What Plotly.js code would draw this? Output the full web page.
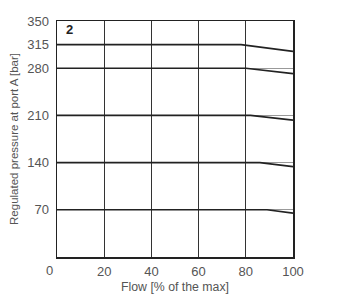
<!DOCTYPE html>
<html><head><meta charset="utf-8">
<script src="https://cdn.plot.ly/plotly-3.0.1.min.js"></script>
<style>body{margin:0;background:#fff}#c{width:344px;height:304px}</style>
</head><body><div id="c"></div>
<script>
// Flow [% of max] break points and pressures [bar] per setting curve
const flow315 = [0, 78, 100];  const p315 = [315, 315, 305];
const flow280 = [0, 80, 100];  const p280 = [280, 280, 272];
const flow210 = [0, 82, 100];  const p210 = [210, 210, 203];
const flow140 = [0, 86, 100];  const p140 = [140, 140, 134];
const flow70  = [0, 89, 100];  const p70  = [70, 70, 65];
const xTicks = [20, 40, 60, 80, 100];
const yTicks = [70, 140, 210, 280, 315, 350];
const yGrid  = [70, 140, 210, 280];

const lineStyle = {color: '#222', width: 1.6};
const series = [[flow315,p315],[flow280,p280],[flow210,p210],[flow140,p140],[flow70,p70]];
const traces = series.map(s => ({x: s[0], y: s[1], mode: 'lines', line: lineStyle, hoverinfo: 'skip', showlegend: false}));
// invisible trace to activate the grid overlay axis
traces.unshift({x: [0, 100], y: [0, 0], yaxis: 'y2', mode: 'lines', line: {width: 0}, showlegend: false, hoverinfo: 'skip'});

const font = {family: 'Liberation Sans, Arial, sans-serif', color: '#555'};
Plotly.newPlot('c', traces, {
  width: 344, height: 304,
  margin: {l: 57, r: 51, t: 21, b: 47},
  paper_bgcolor: '#fff', plot_bgcolor: '#fff',
  font: font,
  xaxis: {range: [0, 100], tickvals: xTicks, ticktext: xTicks.map(String), showgrid: true, gridcolor: '#333', gridwidth: 1.2,
          zeroline: false, showline: true, linecolor: '#222', linewidth: 1.5, mirror: true, ticks: '',
          tickfont: {size: 13, color: '#555'}, ticklabelstandoff: 2,
          title: {text: 'Flow [% of the max]', font: {size: 12.3, color: '#555'}, standoff: 4}},
  yaxis: {range: [0, 350], tickvals: yTicks, ticktext: yTicks.map(String), showgrid: false, zeroline: false,
          showline: true, linecolor: '#222', linewidth: 1.5, mirror: true, ticks: '',
          tickfont: {size: 13, color: '#555'}, ticklabelstandoff: 4,
          title: {text: 'Regulated pressure at port A [bar]', font: {size: 11.5, color: '#555'}, standoff: 6}},
  yaxis2: {range: [0, 350], overlaying: 'y', tickvals: yGrid, showticklabels: false, showgrid: true, gridcolor: '#999',
           gridwidth: 1, zeroline: false, showline: false, layer: 'below traces'},
  annotations: [
    {text: '<b>2</b>', x: 0, y: 350, xref: 'x', yref: 'y', xanchor: 'left', yanchor: 'top', xshift: 7, yshift: 1,
     showarrow: false, font: {size: 13, color: '#222'}},
    {text: '0', x: 0, y: 0, xref: 'x', yref: 'y', xanchor: 'center', yanchor: 'top', xshift: -8, yshift: -4,
     showarrow: false, font: {size: 13, color: '#555'}}
  ]
}, {displayModeBar: false, staticPlot: true});
</script></body></html>
